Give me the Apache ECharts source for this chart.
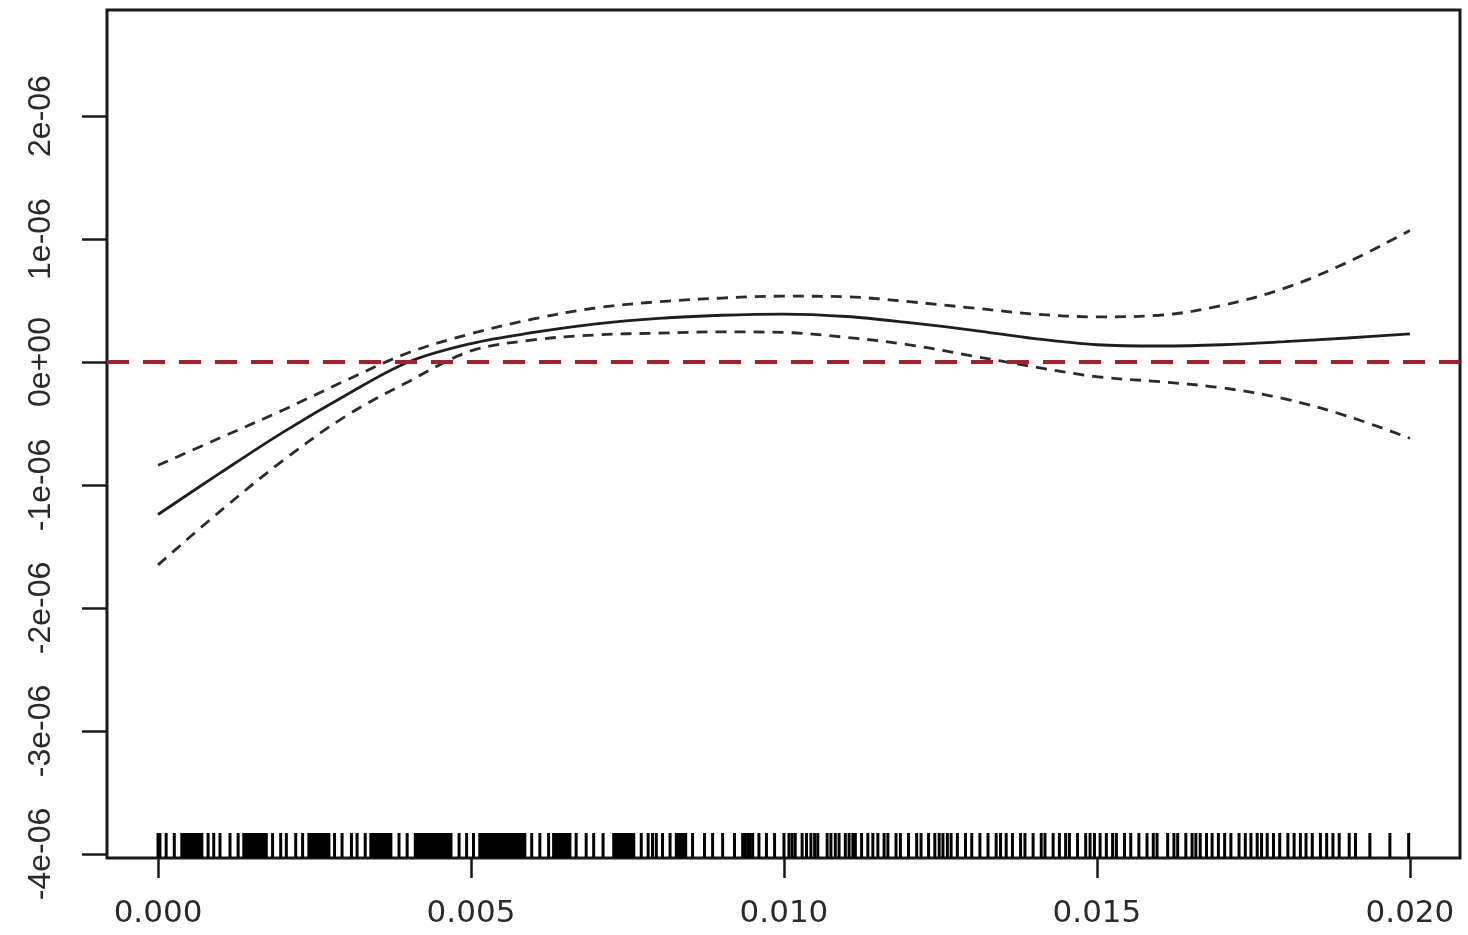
<!DOCTYPE html>
<html>
<head>
<meta charset="utf-8">
<script src="https://cdn.jsdelivr.net/npm/echarts@6/dist/echarts.min.js"></script>
<style>
html,body{margin:0;padding:0;background:#fff;}
#chart{width:1468px;height:935px;}
</style>
</head>
<body>
<div id="chart"></div>
<script>
// x grid of the smooth (exposure)
var xs = [0, 0.001, 0.002, 0.003, 0.004, 0.005, 0.006, 0.007, 0.008, 0.009, 0.010,
          0.011, 0.012, 0.013, 0.014, 0.015, 0.016, 0.017, 0.018, 0.019, 0.020];
// fitted smooth, in units of 1e-06
var fit = [-1.24, -0.90, -0.57, -0.27, 0.00, 0.15, 0.24, 0.31, 0.355, 0.38, 0.39,
           0.37, 0.32, 0.26, 0.19, 0.14, 0.13, 0.14, 0.165, 0.195, 0.228];
// upper confidence band, units of 1e-06
var upper = [-0.84, -0.615, -0.39, -0.15, 0.075, 0.23, 0.35, 0.44, 0.49, 0.52, 0.535,
             0.53, 0.49, 0.44, 0.39, 0.367, 0.38, 0.46, 0.60, 0.81, 1.07];
// lower confidence band, units of 1e-06
var lower = [-1.65, -1.21, -0.80, -0.44, -0.16, 0.09, 0.18, 0.22, 0.235, 0.245, 0.24,
             0.20, 0.14, 0.05, -0.04, -0.12, -0.16, -0.21, -0.30, -0.44, -0.62];
// rug positions (observations), in units of 0.001
var rugX = [
 0, 0.03, 0.13, 0.26,
 0.38,0.41,0.44,0.47,0.50,0.53,0.56,0.59,0.62,0.65,0.68,0.70,
 0.80, 0.89, 0.99, 1.15, 1.28,
 1.37,1.40,1.43,1.46,1.49,1.52,1.55,1.58,1.61,1.64,1.67,1.70,1.73,
 1.83,1.96,2.05,2.20,2.31,
 2.41,2.44,2.47,2.50,2.53,2.56,2.59,2.62,2.65,2.68,2.71,2.73,
 2.82,2.94,3.09,3.18,3.31,
 3.40,3.43,3.46,3.49,3.52,3.55,3.58,3.61,3.64,3.67,3.70,3.72,
 3.85,3.98,
 4.11,4.14,4.17,4.20,4.23,4.26,4.29,4.32,4.35,4.38,4.41,4.44,4.47,4.50,4.53,4.56,4.59,4.62,4.65,4.68,
 4.81,4.93,5.04,
 5.14,5.17,5.20,5.23,5.26,5.29,5.32,5.35,5.38,5.41,5.44,5.47,5.50,5.53,5.56,5.59,5.62,5.65,5.68,5.71,5.74,5.77,5.80,5.83,5.86,
 5.97,6.10,6.24,
 6.32,6.35,6.38,6.41,6.44,6.47,6.50,6.53,6.56,6.58,
 6.68,6.84,6.96,7.11,
 7.28,7.31,7.34,7.37,7.40,7.43,7.46,7.49,7.52,7.55,7.58,7.60,
 7.72,7.83,7.90,7.96,8.06,8.18,
 8.28,8.31,8.34,8.37,8.40,8.43,
 8.54,8.73,8.86,9.02,9.21,
 9.34,9.38,9.42,9.46,9.50,
 9.60,9.72,9.85,
 10.00,10.08,10.13,10.18,10.29,10.36,10.43,10.49,10.54,10.69,10.75,10.82,10.88,
 10.98,11.04,11.10,11.14,11.24,11.34,11.42,11.50,11.60,11.66,11.79,11.86,11.99,
 12.12,12.19,12.31,12.41,12.48,12.54,12.61,12.67,12.77,12.90,13.00,13.13,13.26,
 13.39,13.46,13.55,13.65,13.78,13.85,13.98,14.11,14.17,14.30,14.40,14.50,14.56,
 14.69,14.82,14.89,14.96,15.05,15.15,15.25,15.31,15.44,15.54,15.67,15.80,15.90,
 15.96,16.13,16.23,16.29,16.42,16.52,16.58,16.65,16.75,16.84,16.94,17.04,17.14,
 17.27,17.37,17.46,17.56,17.63,17.72,17.82,17.92,18.05,18.15,18.25,18.34,18.44,
 18.57,18.67,18.77,18.87,19.03,19.13,19.36,19.68,19.98
];
var xTicks = [0, 0.005, 0.010, 0.015, 0.020];
var xTickLabels = ['0.000', '0.005', '0.010', '0.015', '0.020'];
var yTicks = [-4e-6, -3e-6, -2e-6, -1e-6, 0, 1e-6, 2e-6];
var yTickLabels = ['-4e-06', '-3e-06', '-2e-06', '-1e-06', '0e+00', '1e-06', '2e-06'];

var X_MIN = -0.000815, X_MAX = 0.0208;
var Y_MIN = -4.033e-6, Y_MAX = 2.862e-6;

function pairs(ys) {
  return xs.map(function (x, i) { return [x, ys[i] * 1e-6]; });
}
function labelFor(v, ticks, labels) {
  var best = 0, d = Infinity;
  for (var i = 0; i < ticks.length; i++) {
    var dd = Math.abs(ticks[i] - v);
    if (dd < d) { d = dd; best = i; }
  }
  return labels[best];
}

var chart = echarts.init(document.getElementById('chart'), null, {renderer: 'canvas'});
chart.setOption({
  animation: false,
  backgroundColor: '#ffffff',
  grid: {
    left: 107, right: 8, top: 10, bottom: 77,
    show: true, borderColor: '#1a1a1a', borderWidth: 3, backgroundColor: 'transparent'
  },
  xAxis: {
    type: 'value', min: X_MIN, max: X_MAX,
    axisLine: {show: false, onZero: false},
    splitLine: {show: false},
    axisTick: {show: true, length: 20, customValues: xTicks,
               lineStyle: {color: '#1a1a1a', width: 2.5}},
    axisLabel: {
      customValues: xTicks, margin: 40,
      fontFamily: 'DejaVu Sans', fontSize: 31, color: '#2a2a2a',
      formatter: function (v) { return labelFor(v, xTicks, xTickLabels); }
    }
  },
  yAxis: {
    type: 'value', min: Y_MIN, max: Y_MAX,
    axisLine: {show: false, onZero: false},
    splitLine: {show: false},
    axisTick: {show: true, length: 25, customValues: yTicks,
               lineStyle: {color: '#1a1a1a', width: 2.5}},
    axisLabel: {
      customValues: yTicks, margin: 50, rotate: 90,
      fontFamily: '"Liberation Sans", Arial', fontSize: 32, color: '#2a2a2a',
      formatter: function (v) { return labelFor(v, yTicks, yTickLabels); }
    }
  },
  series: [
    {
      type: 'line', name: 'upper', data: pairs(upper), smooth: 0.35, symbol: 'none',
      lineStyle: {color: '#2b2b2b', width: 2.8, type: [11, 8]}, z: 3
    },
    {
      type: 'line', name: 'lower', data: pairs(lower), smooth: 0.35, symbol: 'none',
      lineStyle: {color: '#2b2b2b', width: 2.8, type: [11, 8]}, z: 3
    },
    {
      type: 'line', name: 'fit', data: pairs(fit), smooth: 0.35, symbol: 'none',
      lineStyle: {color: '#1e1e1e', width: 2.8}, z: 4,
      markLine: {
        silent: true, symbol: 'none', label: {show: false},
        lineStyle: {color: '#a5202a', width: 4, type: [22, 14]},
        data: [{yAxis: 0}]
      }
    },
    {
      type: 'custom', name: 'rug', z: 5,
      data: rugX.map(function (v) { return [v / 1000]; }),
      renderItem: function (params, api) {
        var p = api.coord([api.value(0), Y_MIN]);
        return {
          type: 'line',
          shape: {x1: p[0], y1: p[1], x2: p[0], y2: p[1] - 25},
          style: {stroke: '#000000', lineWidth: 3}
        };
      }
    }
  ]
});
</script>
</body>
</html>
